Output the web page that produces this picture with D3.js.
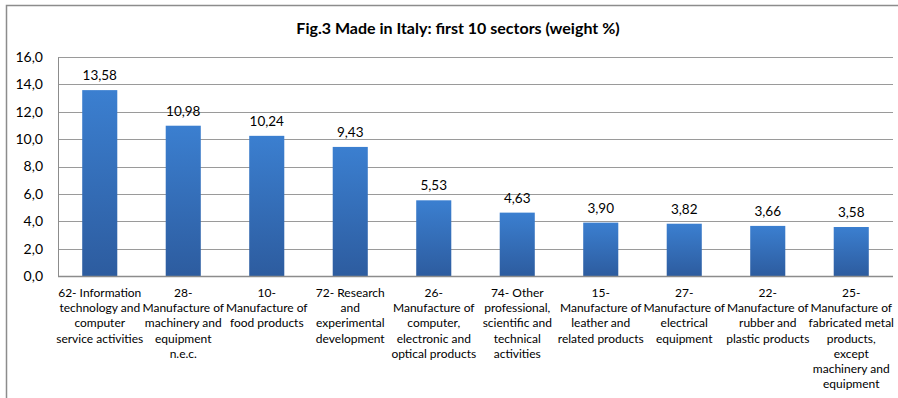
<!DOCTYPE html>
<html>
<head>
<meta charset="utf-8">
<script src="https://cdn.jsdelivr.net/npm/d3@7"></script>
<style>
  body { margin: 0; background: #fff; }
  svg { display: block; font-family: Lato, "Open Sans", sans-serif; }
</style>
</head>
<body>
<svg width="898" height="398"></svg>
<script>
// sector codes and their wrapped label lines
var sectors = ["62", "28", "10", "72", "26", "74", "15", "27", "22", "25"];
var sectorLines = [
  ["62- Information", "technology and", "computer", "service activities"],
  ["28-", "Manufacture of", "machinery and", "equipment", "n.e.c."],
  ["10-", "Manufacture of", "food products"],
  ["72- Research", "and", "experimental", "development"],
  ["26-", "Manufacture of", "computer,", "electronic and", "optical products"],
  ["74- Other", "professional,", "scientific and", "technical", "activities"],
  ["15-", "Manufacture of", "leather and", "related products"],
  ["27-", "Manufacture of", "electrical", "equipment"],
  ["22-", "Manufacture of", "rubber and", "plastic products"],
  ["25-", "Manufacture of", "fabricated metal", "products,", "except", "machinery and", "equipment"]
];
var weights = [13.58, 10.98, 10.24, 9.43, 5.53, 4.63, 3.90, 3.82, 3.66, 3.58];
var yTicks = [0, 2, 4, 6, 8, 10, 12, 14, 16];

var svg = d3.select("svg"),
    width = +svg.attr("width"),
    height = +svg.attr("height");

var margin = {left: 58, right: 5, top: 57, bottom: 122};

var comma = function(v, digits) { return v.toFixed(digits).replace(".", ","); };

// outer frame
svg.append("rect")
    .attr("x", 6.5).attr("y", 5.5)
    .attr("width", width + 20).attr("height", height + 20)
    .attr("fill", "#fff")
    .attr("stroke", "#8c8c8c")
    .attr("stroke-width", 1.5);

svg.append("text")
    .attr("x", 458).attr("y", 34)
    .attr("text-anchor", "middle")
    .style("font-size", "16px")
    .style("font-weight", "bold")
    .text("Fig.3 Made in Italy: first 10 sectors (weight %)");

var x = d3.scaleBand()
    .domain(sectors)
    .range([margin.left, width - margin.right])
    .paddingInner(0.58)
    .paddingOuter(0.29);

var y = d3.scaleLinear()
    .domain([0, 16])
    .range([height - margin.bottom, margin.top]);

var defs = svg.append("defs");
var grad = defs.append("linearGradient")
    .attr("id", "barfill")
    .attr("x1", 0).attr("y1", 0).attr("x2", 0).attr("y2", 1);
grad.append("stop").attr("offset", "0%").attr("stop-color", "#3b7fd0");
grad.append("stop").attr("offset", "100%").attr("stop-color", "#2d5c9f");

// grid lines
svg.append("g")
    .selectAll("line")
    .data(yTicks.slice(1))
    .enter().append("line")
    .attr("x1", margin.left).attr("x2", width - margin.right)
    .attr("y1", function(d) { return Math.round(y(d)) + 0.5; })
    .attr("y2", function(d) { return Math.round(y(d)) + 0.5; })
    .attr("stroke", "#9a9a9a");

// y axis labels and line
var yAxis = svg.append("g")
    .attr("transform", "translate(" + margin.left + ",0)")
    .call(d3.axisLeft(y).tickValues(yTicks).tickSize(0).tickPadding(15)
        .tickFormat(function(d) { return comma(d, 1); }));
yAxis.select(".domain").attr("stroke", "#8c8c8c");
yAxis.selectAll("text")
    .style("font-size", "14px")
    .style("font-family", "Lato, sans-serif")
    .attr("fill", "#000");

// bars
svg.append("g")
    .selectAll("rect")
    .data(weights)
    .enter().append("rect")
    .attr("x", function(d, i) { return x(sectors[i]); })
    .attr("y", function(d) { return y(d); })
    .attr("width", x.bandwidth())
    .attr("height", function(d) { return y(0) - y(d); })
    .attr("fill", "url(#barfill)");

// value labels
svg.append("g")
    .selectAll("text")
    .data(weights)
    .enter().append("text")
    .attr("x", function(d, i) { return x(sectors[i]) + x.bandwidth() / 2; })
    .attr("y", function(d) { return y(d) - 10; })
    .attr("text-anchor", "middle")
    .style("font-size", "13.5px")
    .text(function(d) { return comma(d, 2); });

// x axis line
svg.append("line")
    .attr("x1", margin.left).attr("x2", width - margin.right)
    .attr("y1", y(0) + 0.5).attr("y2", y(0) + 0.5)
    .attr("stroke", "#8c8c8c")
    .attr("stroke-width", 1.5);

// category labels
var cat = svg.append("g")
    .selectAll("text")
    .data(sectorLines)
    .enter().append("text")
    .attr("text-anchor", "middle")
    .style("font-size", "12px")
    .attr("transform", function(d, i) {
      return "translate(" + (x(sectors[i]) + x.bandwidth() / 2) + "," + (y(0) + 21) + ")";
    });
cat.selectAll("tspan")
    .data(function(d) { return d; })
    .enter().append("tspan")
    .attr("x", 0)
    .attr("y", function(d, j) { return j * 15.2; })
    .text(function(d) { return d; });
</script>
</body>
</html>
